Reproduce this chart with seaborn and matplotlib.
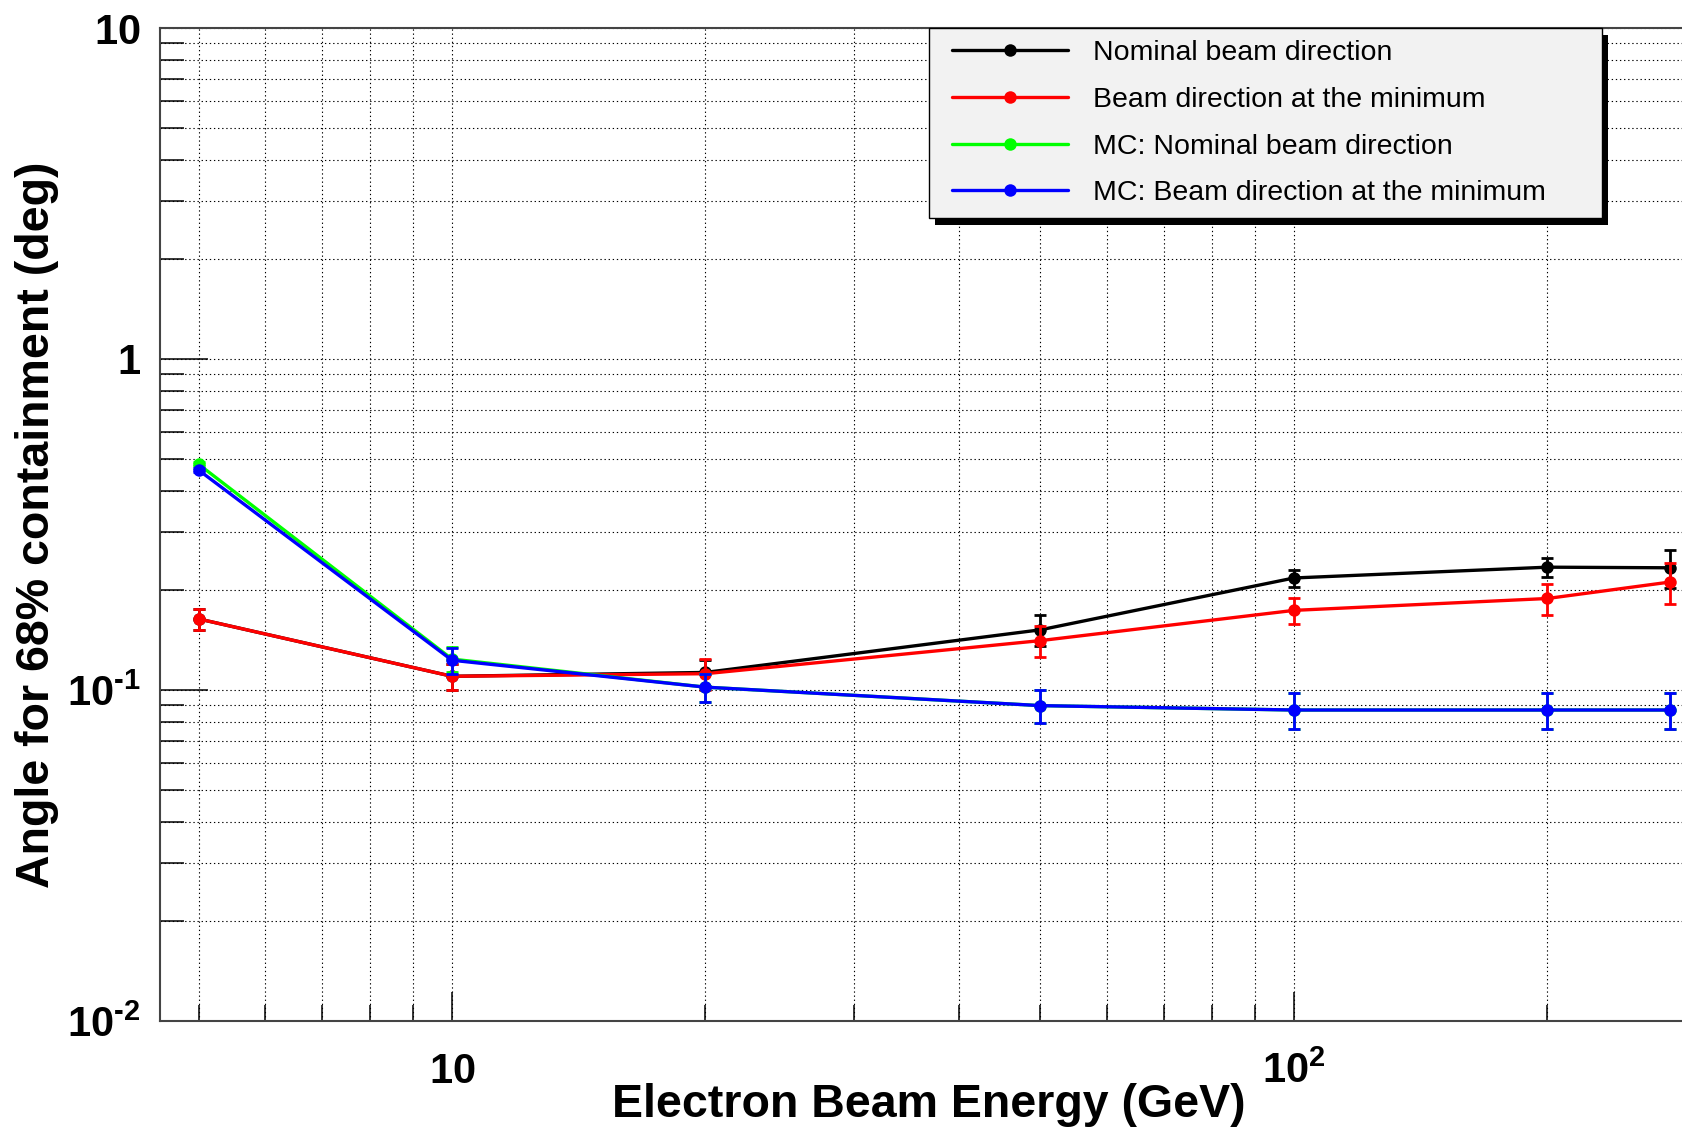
import matplotlib
matplotlib.use("Agg")
import matplotlib.pyplot as plt
import seaborn as sns
import pandas as pd
from matplotlib.lines import Line2D
from matplotlib.patches import Rectangle
from matplotlib.legend_handler import HandlerLine2D
from matplotlib.ticker import FixedLocator, FixedFormatter, NullFormatter

# ---------------- data ----------------
energy = [5, 10, 20, 50, 100, 200, 280]

nominal = [0.164, 0.110, 0.113, 0.152, 0.218, 0.235, 0.234]
nominal_err = [0.012, 0.010, 0.010, 0.016, 0.013, 0.015, 0.030]

minimum = [0.164, 0.110, 0.112, 0.141, 0.174, 0.189, 0.212]
minimum_err = [0.012, 0.010, 0.012, 0.015, 0.016, 0.020, 0.030]

mc_nominal = [0.481, 0.124, 0.102, 0.0897, 0.087, 0.087, 0.087]
mc_nominal_err = [0.006, 0.011, 0.010, 0.010, 0.011, 0.011, 0.011]

mc_minimum = [0.462, 0.123, 0.102, 0.0897, 0.087, 0.087, 0.087]
mc_minimum_err = [0.006, 0.011, 0.010, 0.010, 0.011, 0.011, 0.011]

series_labels = ["Nominal beam direction",
                 "Beam direction at the minimum",
                 "MC: Nominal beam direction",
                 "MC: Beam direction at the minimum"]
series_colors = ["#000000", "#ff0000", "#00ff00", "#0000ff"]

x_major = [10, 100]
x_major_labels = [r"$10$", r"$10^{2}$"]
y_major = [0.01, 0.1, 1, 10]
y_major_labels = ["$10^{\u20102}$", "$10^{\u20101}$", r"$1$", r"$10$"]

x_label = "Electron Beam Energy (GeV)"
y_label = "Angle for 68% containment (deg)"

# ---------------- style ----------------
sns.set_theme(style="white")
plt.rcParams["font.family"] = ["Liberation Sans", "DejaVu Sans"]
plt.rcParams["mathtext.fontset"] = "custom"
plt.rcParams["mathtext.rm"] = "Liberation Sans:bold"
plt.rcParams["mathtext.bf"] = "Liberation Sans:bold"
plt.rcParams["mathtext.it"] = "Liberation Sans:bold"
plt.rcParams["mathtext.default"] = "rm"
for key in ["text.color", "axes.labelcolor", "xtick.color", "ytick.color"]:
    plt.rcParams[key] = "black"

W, H = 1682, 1128
fig = plt.figure(figsize=(W / 100, H / 100), dpi=100)
fig.patch.set_facecolor("white")
ax = fig.add_axes([160 / W, 1 - 1021 / H, 1 - 160 / W, (1021 - 28) / H])
ax.set_facecolor("white")
ax.set_xscale("log")
ax.set_yscale("log")

ys = [nominal, minimum, mc_nominal, mc_minimum]
es = [nominal_err, minimum_err, mc_nominal_err, mc_minimum_err]

for i, (y, e, lab, c) in enumerate(zip(ys, es, series_labels, series_colors)):
    df = pd.DataFrame({"energy": energy, "angle": y})
    ax.errorbar(energy, y, yerr=e, fmt="none", ecolor=c, elinewidth=2.0,
                capsize=4.5, capthick=2.0, zorder=2 + i * 0.3)
    sns.lineplot(data=df, x="energy", y="angle", color=c, marker="o",
                 markersize=9, markeredgewidth=0, linewidth=2.4,
                 estimator=None, sort=False, errorbar=None, legend=False,
                 ax=ax, zorder=2.1 + i * 0.3)

ax.set_xlim(4.5, 289)
ax.set_ylim(0.01, 10)

# ticks
x_minor = [m * 10 ** k for k in range(0, 3) for m in range(2, 10)]
x_minor = [v for v in x_minor if 4.5 <= v <= 289 and v not in x_major]
y_minor = [m * 10.0 ** k for k in range(-2, 1) for m in range(2, 10)]

ax.xaxis.set_major_locator(FixedLocator(x_major))
ax.xaxis.set_major_formatter(FixedFormatter(x_major_labels))
ax.xaxis.set_minor_locator(FixedLocator(x_minor))
ax.xaxis.set_minor_formatter(NullFormatter())
ax.yaxis.set_major_locator(FixedLocator(y_major))
ax.yaxis.set_major_formatter(FixedFormatter(y_major_labels))
ax.yaxis.set_minor_locator(FixedLocator(y_minor))
ax.yaxis.set_minor_formatter(NullFormatter())

ax.tick_params(axis="x", which="major", direction="in", length=21, width=1.1,
               color="black", labelcolor="black", labelsize=30, pad=44.5,
               bottom=True, top=False)
ax.tick_params(axis="x", which="minor", direction="in", length=11.5, width=1.1,
               color="black", bottom=True, top=False)
ax.tick_params(axis="y", which="major", direction="in", length=34.6, width=1.1,
               color="black", labelcolor="black", labelsize=30, pad=14,
               left=True, right=False)
ax.tick_params(axis="y", which="minor", direction="in", length=17.3, width=1.1,
               color="black", left=True, right=False)

ax.grid(True, which="both", color="black", linestyle=(0, (1.2, 2.5)),
        linewidth=0.8)
ax.set_axisbelow(True)

for side in ["left", "bottom", "top"]:
    ax.spines[side].set_color("#444444")
    ax.spines[side].set_linewidth(1.5)
ax.spines["right"].set_visible(False)

ax.set_xlabel(x_label, fontsize=33.5, fontweight="bold", color="black")
ax.xaxis.set_label_coords(0.505, -0.0624)
ax.set_ylabel(y_label, fontsize=33.5, fontweight="bold", color="black")
ax.yaxis.set_label_coords(-0.0664, 0.5)

# legend
handles = [Line2D([], [], color=c, lw=2.4, marker="o", markersize=9,
                  markeredgewidth=0) for c in series_colors]
leg = ax.legend(handles, series_labels, loc="upper left",
                bbox_to_anchor=(0.5053, 0.0, 0.4419, 1.0), mode="expand",
                borderaxespad=0, fancybox=False, frameon=True,
                edgecolor="black", facecolor="#f2f2f2", framealpha=1,
                fontsize=20.5, handlelength=4.45, handletextpad=0.88,
                borderpad=0.42, labelspacing=0.73, numpoints=1,
                handler_map={Line2D: HandlerLine2D(xpad=0.38)})
leg.get_frame().set_linewidth(1.0)
leg.set_zorder(10)
for t in leg.get_texts():
    t.set_color("black")

fig.canvas.draw()
for lab in ax.get_xticklabels():
    lab.set_va("baseline")

bb = leg.get_window_extent()
inv = ax.transAxes.inverted()
(x0, y0), (x1, y1) = inv.transform([[bb.x0 + 6, bb.y0 - 7], [bb.x1 + 6, bb.y1 - 7]])
shadow = Rectangle((x0, y0), x1 - x0, y1 - y0, transform=ax.transAxes,
                   facecolor="black", edgecolor="none", zorder=9.5, clip_on=False)
ax.add_artist(shadow)

fig.savefig("out.png", dpi=100, facecolor="white")
